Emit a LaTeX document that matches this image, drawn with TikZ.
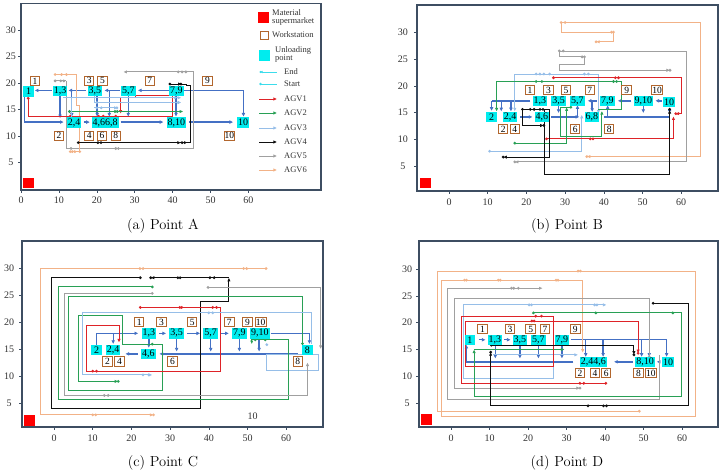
\documentclass[tikz,border=0pt]{standalone}
\usepackage{fontspec}
\newfontfamily\tms{Liberation Serif}
\usetikzlibrary{arrows.meta}
\definecolor{roadc}{RGB}{68,112,196}
\definecolor{c1}{RGB}{222,35,40}
\definecolor{c2}{RGB}{40,160,85}
\definecolor{c3}{RGB}{150,190,232}
\definecolor{c4}{RGB}{15,15,15}
\definecolor{c5}{RGB}{160,160,160}
\definecolor{c6}{RGB}{242,178,135}
\definecolor{cyanc}{RGB}{0,236,238}
\definecolor{wsc}{RGB}{178,102,45}
\definecolor{frm}{RGB}{62,78,98}
\definecolor{cyl}{RGB}{60,220,235}
\newcommand\agvdots[2]{\foreach \xx/\yy in {#2}{\fill[#1] (\xx,\yy) circle (1.55pt);}}
\newcommand\panelbox[7]{%
  \draw[frm, line width=1.6pt] (#1,#2) rectangle (#3,#4);
  \foreach \v in {5,10,...,30}{\draw[frm, line width=0.5pt] (#1,\v) -- ++(-3pt,0); \node[tk] (#7y\v) at (#5,\v) {\v};}
  \foreach \v in {0,10,...,60}{\draw[frm, line width=0.5pt] (\v,#2) -- ++(0,-3pt); \node[tk] (#7x\v) at (\v,#6) {\v};}
}
\begin{document}
\begin{tikzpicture}[x=1pt,y=1pt,
  road/.style={draw=roadc, line width=1.4pt, -{Latex[length=3.8pt,width=3.8pt]}},
  roadn/.style={draw=roadc, line width=1.4pt},
  agv/.style={line width=0.9pt, -{Latex[length=3.6pt,width=3.4pt]}},
  agvn/.style={line width=0.9pt},
  A1/.style={agv, draw=c1}, A2/.style={agv, draw=c2}, A3/.style={agv, draw=c3},
  A4/.style={agv, draw=c4}, A5/.style={agv, draw=c5}, A6/.style={agv, draw=c6},
  up/.style={fill=cyanc, inner sep=1pt, minimum height=10.5pt, minimum width=10.5pt, font=\tms\fontsize{10}{10}\selectfont},
  wsn/.style={draw=wsc, line width=1pt, fill=white, inner sep=0.6pt, minimum size=9.5pt, font=\tms\fontsize{9.5}{9.5}\selectfont},
  tk/.style={font=\tms\fontsize{10}{10}\selectfont, inner sep=0pt, text=black!80},
  lg/.style={font=\tms\fontsize{8.5}{8}\selectfont, inner sep=0pt, anchor=west, align=left, text=black!80},
  capt/.style={font=\fontsize{14.5}{17}\selectfont, inner sep=0pt}]
\useasboundingbox (0,0) rectangle (720,-471);

% ================= Panel (a) =================
\begin{scope}[shift={(21,-188.6)}, x=3.79pt, y=5.28pt]
\panelbox{0}{-0.3}{79.2}{35.06}{-2.7}{-2.2}{a}
\fill[red] (0.45,0.1) rectangle (3.4,2);
% roads
\draw[road] (39,18.6) -- (30.8,18.6);
\draw[road] (26,18.6) -- (22,18.6);
\draw[road] (17.2,18.6) -- (12.5,18.6);
\draw[road] (8.2,18.6) -- (3.6,18.6);
\draw[roadn] (41,18.6) -- (58.7,18.6);
\draw[road] (58.7,18.6) -- (58.7,13.6);
\draw[road] (1,17.4) -- (1,12.6) -- (11.3,12.6);
\draw[road] (16.6,12.6) -- (18.2,12.6);
\draw[road] (26.3,12.6) -- (37.6,12.6);
\draw[road] (44.4,12.6) -- (56,12.6);
\draw[road] (10.3,17.6) -- (10.3,13.3);
\draw[road] (13.4,18.6) -- (13.4,13.6);
\draw[road] (20.1,17.6) -- (20.1,13.6);
\draw[road] (23.3,18.6) -- (23.3,13.6);
\draw[road] (28.3,17.6) -- (28.3,13.6);
\draw[road] (40.9,17.6) -- (40.9,13.6);
% AGV5
\draw[A5] (12,20.4) -- (12,7.6) -- (45.6,7.6) -- (45.6,22.1) -- (27,22.1);
\draw[agvn, c5] (9,20.4) -- (12,20.4);
\agvdots{c5}{9/20.4, 10.5/20.4, 11.3/20.4, 13.2/7.6, 25/7.6, 25.7/7.6, 41.5/22.1, 42.5/22.1, 43.5/22.1}
% AGV6
\draw[A6] (9,21.6) -- (14.7,21.6) -- (14.7,15.8) -- (15.5,15.8) -- (15.5,7) -- (12.8,7);
\agvdots{c6}{9/21.6, 10.7/21.6, 12/21.6, 13/7, 14.2/7, 15.5/7}
% AGV1
\draw[A1] (1.9,17.1) -- (1.9,13.7) -- (40,13.7) -- (40,17.7) -- (30.3,17.7) -- (30.3,17.3) -- (26.3,17.3) -- (26.3,14.2);
\agvdots{c1}{1.9/17.1, 13/13.7, 20.5/13.7, 21.7/13.7, 25/13.7}
% AGV2
\draw[A2] (12.8,14.6) -- (42.8,14.6);
\agvdots{c2}{12.8/14.6, 24.8/14.6, 25.4/14.6}
% AGV3
\draw[A3] (11,17.2) -- (42.3,17.2);
\draw[A3] (19.5,17.5) -- (19.5,16.3) -- (42.3,16.3);
\draw[A3] (19.3,15.3) -- (25.5,15.3);
\draw[agvn, c3] (13.3,17.2) -- (13.3,13.5);
\agvdots{c3}{20/16.3, 20/15.3, 21.2/15.3, 25.3/15.3, 41.5/16.3, 40.6/17.2}
% AGV4
\draw[A4] (39.3,19.8) -- (42.4,19.8);
\draw[agvn, c4] (42.4,19.8) -- (43.7,19.8) -- (43.7,19.6) -- (44.7,19.6) -- (44.7,8.7) -- (42,8.7);
\draw[A4] (15.1,8.7) -- (42.2,8.7);
\agvdots{c4}{39.3/19.8, 42.2/19.8, 15.1/8.7, 20.3/8.7, 21.1/8.7, 42.5/8.7, 43.2/8.7}
% unloading points
\node[up] (a1) at (2,18.4) {1};
\node[up] (a13) at (10.3,18.5) {1,3};
\node[up] (a35) at (19.5,18.5) {3,5};
\node[up] (a57) at (28.3,18.5) {5,7};
\node[up] (a79) at (41,18.5) {7,9};
\node[up] (a24) at (14,12.5) {2,4};
\node[up] (a4668) at (22.2,12.5) {4,66,8};
\node[up] (a810) at (41,12.5) {8,10};
\node[up] (a10) at (58.6,12.5) {10};
% workstations
\node[wsn] (aw1) at (3.7,20.4) {1};
\node[wsn] (aw2) at (10,10) {2};
\node[wsn] (aw3) at (18,20.4) {3};
\node[wsn] (aw5) at (21.5,20.4) {5};
\node[wsn] (aw4) at (18,10) {4};
\node[wsn] (aw6) at (21.4,10) {6};
\node[wsn] (aw8) at (25,10) {8};
\node[wsn] (aw7) at (34,20.4) {7};
\node[wsn] (aw9) at (49.2,20.4) {9};
\node[wsn] (aw10) at (55,10) {10};
\end{scope}
% legend
\fill[red] (258,-12) rectangle (269,-23);
\node[lg] (lgms) at (272,-17.5) {Material\\supermarket};
\draw[wsc, line width=1pt] (260,-31) rectangle (268,-39);
\node[lg] (lgws) at (272,-35) {Workstation};
\fill[cyanc] (259,-50) rectangle (270,-61);
\node[lg] (lgup) at (275,-54.5) {Unloading\\point};
\draw[cyl, line width=0.8pt, {Latex[length=2.5pt,width=2.5pt]}-] (260,-72) -- (277,-72);
\fill[cyl] (260.5,-72) circle (1.2pt);
\node[lg] (lgend) at (284,-72) {End};
\draw[cyl, line width=0.8pt] (260,-84) -- (277,-84);
\fill[cyl] (260.5,-84) circle (1.4pt);
\node[lg] (lgst) at (284,-84) {Start};
\draw[A1] (259,-99) -- (277,-99);  \node[lg] (lg1) at (284,-99) {AGV1};
\draw[A2] (259,-113) -- (277,-113); \node[lg] (lg2) at (284,-113) {AGV2};
\draw[A3] (259,-128) -- (277,-128); \node[lg] (lg3) at (284,-128) {AGV3};
\draw[A4] (259,-142) -- (277,-142); \node[lg] (lg4) at (284,-142) {AGV4};
\draw[A5] (259,-156) -- (277,-156); \node[lg] (lg5) at (284,-156) {AGV5};
\draw[A6] (259,-170) -- (277,-170); \node[lg] (lg6) at (284,-170) {AGV6};
\node[capt] (capa) at (163,-226) {(a) Point A};

% ================= Panel (b) =================
\begin{scope}[shift={(449,-193)}, x=3.87pt, y=5.36pt]
\panelbox{-8.3}{0.37}{69.5}{35.1}{-11.9}{-1.7}{b}
\fill[red] (-7.4,1) rectangle (-4.6,2.8);
% roads
\draw[road] (55,17.2) -- (53.3,17.2);
\draw[road] (47.1,17.2) -- (43.6,17.2);
\draw[road] (38.2,17.2) -- (35.8,17.2);
\draw[roadn] (21,17.2) -- (11,17.2);
\draw[road] (11,17.2) -- (11,15.3);
\draw[road] (18.4,14.2) -- (21.6,14.2);
\draw[road] (26.4,14.2) -- (33.7,14.2);
\draw[road] (40.1,14.2) -- (57,14.2) -- (57,16);
\draw[road] (13.5,17.2) -- (13.5,15.2);
\draw[road] (16,17.2) -- (16,15.2);
\draw[road] (28.3,16.5) -- (28.3,14.9);
\draw[road] (33.2,14.2) -- (33.2,16.4);
\draw[road] (37,17.2) -- (37,15.1);
\draw[road] (41,14.2) -- (41,16.4);
\draw[road] (50.2,16.5) -- (50.2,14.9);
% AGV6
\draw[A6] (29,31.8) -- (65,31.8) -- (65,6.8) -- (35.6,6.8);
\draw[A6] (29,31.8) -- (29,30) -- (42.5,30) -- (42.5,28.2) -- (38,28.2);
\agvdots{c6}{29/31.8, 30/31.8, 35.6/6.8, 42.5/30, 42/30, 38/28.2}
% AGV5
\draw[A5] (28.5,26.5) -- (61.4,26.5) -- (61.4,5.8) -- (17,5.8);
\draw[A5] (28.5,26.3) -- (28.5,25.4) -- (35,25.4) -- (35,24) -- (28.5,24) -- (28.5,22.9) -- (57.1,22.9);
\agvdots{c5}{28.5/26.5, 29.5/26.5, 17/5.8, 35/25.4, 34.4/25.4, 57.1/22.9}
% AGV3
\draw[A3] (17,22.2) -- (38.6,22.2) -- (38.6,14.8);
\draw[A3] (17,22.2) -- (17,15.2);
\draw[A3] (10.5,7.8) -- (34.3,7.8) -- (34.3,14.6);
\agvdots{c3}{22.5/22.2, 23.5/22.2, 24.5/22.2, 26/22.2, 35/22.2, 36/22.2, 10.5/7.8}
% AGV1
\draw[A1] (27,21.5) -- (60.1,21.5) -- (60.1,14.8) -- (58.5,14.8);
\draw[A1] (25.2,10.1) -- (58,10.1) -- (58,14.3);
\agvdots{c1}{27/21.5, 43/21.5, 43.8/21.5, 25.2/10.1, 36.5/10.1, 37.2/10.1, 58.6/14.8}
% AGV2
\draw[A2] (38.5,15.5) -- (44.6,15.5) -- (44.6,20.8) -- (12.3,20.8) -- (12.3,15.2);
\draw[A2] (17,9.3) -- (30.4,9.3) -- (30.4,16);
\draw[A2] (31.5,16) -- (28.7,16) -- (28.7,10.6) -- (39.5,10.6) -- (39.5,15.3);
\agvdots{c2}{42.5/20.8, 43.3/20.8, 22.5/20.8, 24/20.8, 17/9.3, 31.5/16}
% AGV4
\draw[A4] (19,15.6) -- (26,15.6) -- (26,6.7) -- (14,6.7);
\draw[A4] (19,15.6) -- (19,12.6) -- (24.5,12.6);
\draw[A4] (24.7,15.5) -- (24.7,3.4) -- (57,3.4) -- (57,15.5);
\agvdots{c4}{19/15.6, 21/15.6, 22/15.6, 23.5/15.6, 24.3/15.6, 14/6.7, 24.5/12.6, 57/15.6}
% unloading points
\node[up] (b2) at (11,14.2) {2};
\node[up] (b24) at (15.8,14.2) {2,4};
\node[up] (b46) at (24,14.2) {4,6};
\node[up] (b68) at (36.9,14.2) {6,8};
\node[up] (b13) at (23.5,17.2) {1,3};
\node[up] (b35) at (28.3,17.2) {3,5};
\node[up] (b57) at (33.2,17.2) {5,7};
\node[up] (b79) at (40.9,17.2) {7,9};
\node[up] (b910) at (50.2,17.2) {9,10};
\node[up] (b10) at (56.9,17) {10};
% workstations
\node[wsn] (bw1) at (20.9,19.2) {1};
\node[wsn] (bw3) at (25.7,19.2) {3};
\node[wsn] (bw5) at (30.2,19.2) {5};
\node[wsn] (bw7) at (36.4,19.2) {7};
\node[wsn] (bw9) at (45.9,19.2) {9};
\node[wsn] (bw10) at (53.8,19.2) {10};
\node[wsn] (bw2) at (14,11.9) {2};
\node[wsn] (bw4) at (17,11.9) {4};
\node[wsn] (bw6) at (32.6,11.9) {6};
\node[wsn] (bw8) at (41.4,11.9) {8};
\end{scope}
\node[capt] (capb) at (567,-226) {(b) Point B};

% ================= Panel (c) =================
\begin{scope}[shift={(54,-430)}, x=3.87pt, y=5.4pt]
\panelbox{-8.3}{0.55}{69.5}{35}{-11.6}{-1.5}{c}
\fill[red] (-7.75,0.7) rectangle (-4.9,2.8);
% roads
\draw[road] (11,15.8) -- (11,17.9) -- (21.8,17.9);
\draw[road] (27.2,17.9) -- (29,17.9);
\draw[road] (34.4,17.9) -- (37.8,17.9);
\draw[road] (43.2,17.9) -- (45.2,17.9);
\draw[road] (56,17.9) -- (66,17.9) -- (66,15.9);
\draw[road] (63,14.1) -- (27.2,14.1);
\draw[road] (21.6,14.1) -- (18.4,14.1);
\draw[road] (15.3,17.9) -- (15.3,15.9);
\draw[road] (24.5,17.2) -- (24.5,15.2);
\draw[road] (31.7,17.2) -- (31.7,14.5);
\draw[road] (40.5,17.2) -- (40.5,14.5);
\draw[road] (47.9,17.2) -- (47.9,14.5);
\draw[road] (53,17.2) -- (53,14.5);
% light blue box right
\draw[agvn, c3] (55,11.1) rectangle (68.3,13.9);
% AGV6
\draw[A6] (54.8,29.9) -- (-3.4,29.9) -- (-3.4,2.8) -- (25.7,2.8);
\agvdots{c6}{54.8/29.9, 22.2/29.9, 23/29.9, 49/29.9, 49.8/29.9, 10/2.8, 10.8/2.8, 25.7/2.8}
% AGV4
\draw[A4] (45.2,28.2) -- (25,28.2);
\draw[A4] (22.3,28.2) -- (-0.6,28.2) -- (-0.6,4) -- (37.9,4) -- (37.9,23.8) -- (45.2,23.8) -- (45.2,28.2);
\agvdots{c4}{22.3/28.2, 25/28.2, 32/28.2, 32.6/28.2, 40.3/28.2, 41.4/28.2}
% AGV2
\draw[A2] (25.4,26.5) -- (1.1,26.5) -- (1.1,5.6) -- (60.5,5.6) -- (60.5,16.7) -- (51.1,16.7) -- (51.1,15.9);
\draw[A2] (64.2,16) -- (64.2,24.7) -- (3.7,24.7) -- (3.7,7.4) -- (28.1,7.4) -- (28.1,15.9) -- (17.8,15.9) -- (17.8,21.2) -- (6.3,21.2) -- (6.3,9) -- (16.6,9);
\agvdots{c2}{25.4/26.5, 54.6/16.7, 52/16.7, 64.2/16, 16.6/9, 25.4/15.9}
% AGV5
\draw[A5] (25.4,25.3) -- (2.6,25.3) -- (2.6,6.4) -- (65.5,6.4) -- (65.5,12.5);
\draw[A5] (39.8,26.4) -- (68.9,26.4) -- (68.9,15);
\agvdots{c5}{25.4/25.3, 13/6.4, 14/6.4, 39.8/26.4}
% AGV1
\draw[A1] (22.3,22.7) -- (43.1,22.7) -- (43.1,10.9) -- (8.4,10.9) -- (8.4,19.3) -- (16.8,19.3) -- (16.8,16.2);
\agvdots{c1}{22.3/22.7, 10/10.9, 11/10.9, 32.5/22.7, 33/22.7, 41/22.7, 42/22.7}
% AGV3
\draw[A3] (66.6,16) -- (66.6,21.7) -- (7.4,21.7) -- (7.4,10.2) -- (25.4,10.2);
\agvdots{c3}{23/10.2, 24.5/10.2, 40/21.7, 41/21.7, 55/15.8}
% unloading points
\node[up] (c2) at (11,14.8) {2};
\node[up] (c24) at (15.3,14.8) {2,4};
\node[up] (c46) at (24.4,14.1) {4,6};
\node[up] (c13) at (24.5,17.9) {1,3};
\node[up] (c35) at (31.7,17.9) {3,5};
\node[up] (c57) at (40.5,17.9) {5,7};
\node[up] (c79) at (47.9,17.9) {7,9};
\node[up] (c910) at (53.2,17.9) {9,10};
\node[up] (c8) at (65.5,14.8) {8};
% workstations
\node[wsn] (cw1) at (22,20) {1};
\node[wsn] (cw3) at (27.8,20) {3};
\node[wsn] (cw5) at (35.7,20) {5};
\node[wsn] (cw7) at (45.3,20) {7};
\node[wsn] (cw9) at (50,20) {9};
\node[wsn] (cw10) at (53.4,20) {10};
\node[wsn] (cw2) at (13.8,12.7) {2};
\node[wsn] (cw4) at (16.9,12.7) {4};
\node[wsn] (cw6) at (30.6,12.7) {6};
\node[wsn] (cw8) at (63,12.7) {8};
\node[tk] (c10t) at (51.3,2.6) {10};
\end{scope}
\node[capt] (capc) at (163,-463) {(c) Point C};

% ================= Panel (d) =================
\begin{scope}[shift={(451,-430)}, x=3.85pt, y=5.37pt]
\panelbox{-8.3}{0.56}{69.4}{35.2}{-11.4}{-1.5}{d}
\fill[red] (-7.8,0.9) rectangle (-4.9,3);
% roads
\draw[road] (7.2,16.8) -- (9,16.8);
\draw[road] (13.8,16.8) -- (15.5,16.8);
\draw[road] (31.2,16.8) -- (56,16.8) -- (56,13.6);
\draw[road] (54,12.7) -- (53.4,12.7);
\draw[road] (47.3,12.7) -- (42.3,12.7);
\draw[road] (31.8,12.7) -- (4,12.7) -- (4,15.9);
\draw[road] (11.5,16.8) -- (11.5,13.3);
\draw[road] (17.9,16.8) -- (17.9,13.3);
\draw[road] (22.7,16.8) -- (22.7,13.3);
\draw[road] (28.8,16.8) -- (28.8,13.3);
\draw[road] (35,16.8) -- (35,13.6);
\draw[road] (39.5,16.8) -- (39.5,13.6);
\draw[road] (49.5,16.8) -- (49.5,13.6);
\draw[road] (51.5,16.8) -- (51.5,13.6);
% AGV6
\draw[A6] (48.9,3.5) -- (-3.5,3.5) -- (-3.5,29.6) -- (63.4,29.6) -- (63.4,2.5) -- (-2.5,2.5) -- (-2.5,27.9) -- (34.2,27.9) -- (34.2,14.4);
\agvdots{c6}{48.9/3.5, 33/29.6, 33.6/29.6, 3.5/27.9, 4/27.9, 12.3/27.9, 12.8/27.9, 27.3/27.9, 27.8/27.9}
% AGV5
\draw[A5] (54.1,14) -- (54.1,5.6) -- (-0.9,5.6) -- (-0.9,26.4) -- (23.8,26.4);
\draw[A5] (51.5,13.6) -- (51.5,24.5) -- (1,24.5) -- (1,7.8) -- (33.5,7.8);
\agvdots{c5}{15.7/26.4, 16.3/26.4, 17.5/26.4, 33.5/7.8, 51.5/13.6}
% AGV3
\draw[A3] (26.6,13.8) -- (26.6,9.6) -- (3.2,9.6) -- (3.2,23.3) -- (40.4,23.3);
\draw[A3] (11,14) -- (33,14);
\agvdots{c3}{20.3/23.3, 20.9/23.3, 37.3/23.3, 37.9/23.3}
% AGV2
\draw[A2] (21.4,21.8) -- (59.9,21.8) -- (59.9,6.2) -- (6,6.2) -- (6,15);
\draw[A2] (6,15) -- (29.5,15);
\agvdots{c2}{21.4/21.8, 37.6/21.8, 57.6/21.8}
% AGV1
\draw[A1] (40.2,8.7) -- (2.8,8.7) -- (2.8,21.2) -- (26.7,21.2) -- (26.7,11.8) -- (3.7,11.8) -- (3.7,20.3) -- (48.6,20.3) -- (48.6,14.3);
\agvdots{c1}{40.2/8.7, 22/21.2, 23.5/21.2, 21/20.3, 21.6/20.3, 33.5/8.7, 34.5/8.7, 48.6/14.3}
% AGV4
\draw[A4] (52.5,23.6) -- (61.6,23.6) -- (61.6,4.5) -- (10.3,4.5) -- (10.3,14.5);
\draw[A4] (10.5,15.8) -- (47.5,15.8) -- (47.5,14);
\agvdots{c4}{52.5/23.6, 35.6/4.5, 39.6/4.5, 40.4/4.5, 10.5/15.8, 10.3/14.5, 47.5/14}
% unloading points
\node[up] (d1) at (4.9,16.8) {1};
\node[up] (d13) at (11.4,16.8) {1,3};
\node[up] (d35) at (17.9,16.8) {3,5};
\node[up] (d57) at (22.7,16.8) {5,7};
\node[up] (d79) at (28.8,16.8) {7,9};
\node[up] (d2446) at (37,12.7) {2,44,6};
\node[up] (d810) at (50.4,12.7) {8,10};
\node[up] (d10) at (56.4,12.7) {10};
% workstations
\node[wsn] (dw1) at (8.2,18.8) {1};
\node[wsn] (dw3) at (15.3,18.8) {3};
\node[wsn] (dw5) at (20.7,18.8) {5};
\node[wsn] (dw7) at (24.4,18.8) {7};
\node[wsn] (dw9) at (32.3,18.8) {9};
\node[wsn] (dw2) at (33.5,10.6) {2};
\node[wsn] (dw4) at (37.4,10.6) {4};
\node[wsn] (dw6) at (40.3,10.6) {6};
\node[wsn] (dw8) at (48.7,10.6) {8};
\node[wsn] (dw10) at (51.9,10.6) {10};
\end{scope}
\node[capt] (capd) at (567,-463) {(d) Point D};
\end{tikzpicture}
\end{document}
